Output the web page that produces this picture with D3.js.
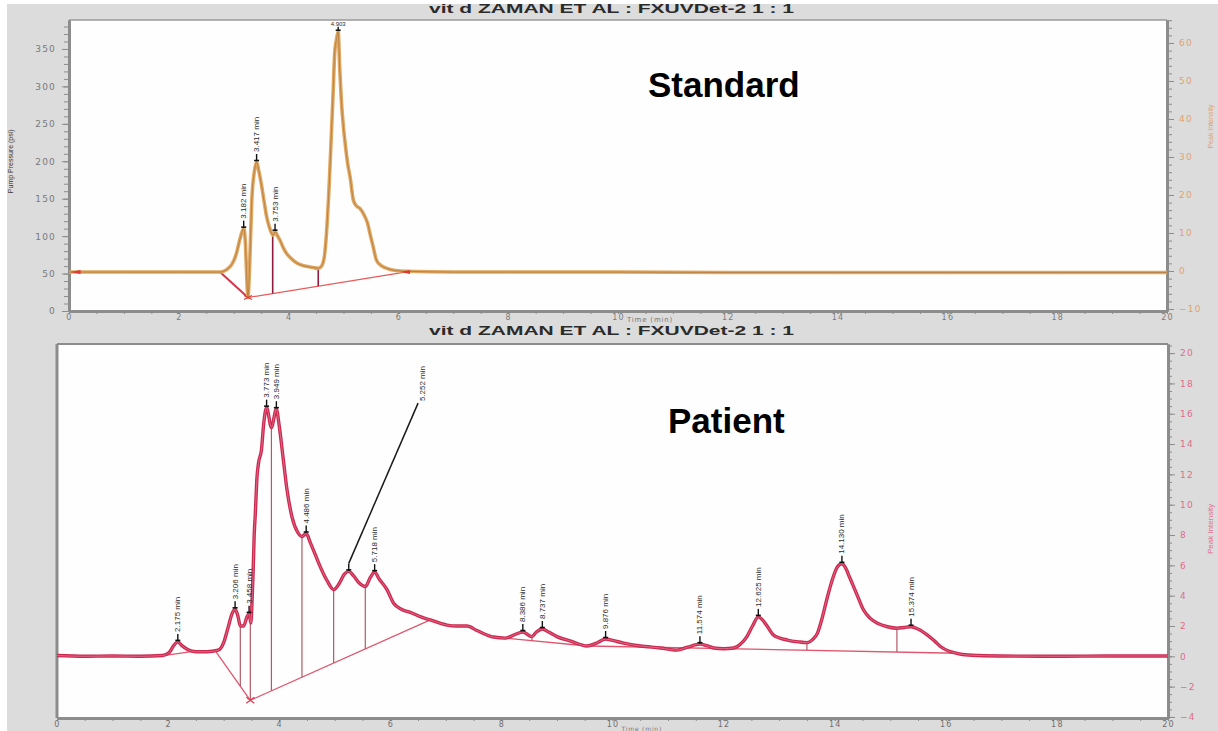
<!DOCTYPE html>
<html>
<head>
<meta charset="utf-8">
<script src="https://cdn.jsdelivr.net/npm/d3@7"></script>
<style>
  body { margin: 0; background: #ffffff; }
  svg { display: block; }
</style>
</head>
<body>
<svg id="chart" width="1218" height="731"></svg>
<script>
// ---- Standard run (pump pressure trace) ----
const standardTime = [0,1,2,2.75,2.93,3.05,3.11,3.182,3.21,3.235,3.26,3.29,3.33,3.38,3.417,3.46,3.5,3.55,3.6,3.65,3.69,3.72,3.753,3.8,3.84,3.9,3.96,4.05,4.15,4.3,4.45,4.54,4.6,4.65,4.69,4.74,4.78,4.81,4.84,4.87,4.903,4.93,4.96,5.0,5.03,5.08,5.12,5.18,5.24,5.3,5.39,5.44,5.48,5.54,5.6,5.68,5.79,5.95,6.15,7,8,10,12,14,16,18,20];
const standardSignal = [52,52,52,52,59,77,95,110,95,50,18,60,148,188,199,186,171,148,126,112,104,101,106,100,95,85,77,70,64,60,58,57,60,72,104,170,238,290,345,362,373,326,282,245,224,195,179,148,140,137,126,117,104,86,68,61,57,54,53,52,52,52,51.5,51.5,51.5,51.5,51.5];
const standardPeakTimes = [3.182, 3.417, 3.753, 4.903];
const standardPeakLabels = ["3.182 min", "3.417 min", "3.753 min", "4.903"];
const standardBaselines = [
  [[2.75, 52], [3.26, 18]],
  [[3.26, 18], [6.12, 52]]
];
const standardDropTimes = [3.71, 4.54];

// ---- Patient run (UV detector trace) ----
const patientTime = [0,0.5,1.0,1.5,1.9,2.02,2.1,2.175,2.25,2.35,2.5,2.7,2.9,3.0,3.08,3.15,3.206,3.26,3.3,3.36,3.42,3.458,3.49,3.51,3.53,3.55,3.57,3.6,3.63,3.68,3.72,3.773,3.86,3.949,4.0,4.07,4.14,4.23,4.33,4.41,4.486,4.56,4.65,4.74,4.86,4.98,5.08,5.17,5.252,5.34,5.45,5.55,5.64,5.718,5.8,5.94,6.06,6.2,6.36,6.55,6.72,7.02,7.2,7.38,7.56,7.86,8.07,8.25,8.386,8.55,8.63,8.737,8.85,9.0,9.25,9.54,9.7,9.876,10.0,10.2,10.5,10.86,11.16,11.35,11.574,11.7,11.82,12.0,12.18,12.3,12.42,12.52,12.625,12.7,12.8,12.9,13.15,13.35,13.5,13.6,13.69,13.78,13.87,13.97,14.05,14.13,14.2,14.27,14.34,14.43,14.52,14.64,14.77,14.95,15.12,15.25,15.374,15.5,15.67,15.8,15.91,16.05,16.15,16.3,16.6,17,18,19,20];
const patientSignal = [0.05,0,0.02,0,0.05,0.25,0.7,0.95,0.7,0.45,0.3,0.3,0.4,0.9,1.9,2.8,3.1,2.6,2.0,2.0,2.6,2.8,2.2,3.5,5.5,8.0,9.4,11.8,12.8,13.6,15.3,16.4,15.1,16.3,15.2,13.1,11.0,9.2,8.2,7.9,8.1,7.5,6.7,5.9,5.0,4.4,4.8,5.4,5.6,5.3,4.8,4.6,5.2,5.55,5.1,4.4,3.5,3.1,2.9,2.6,2.4,2.06,2.0,2.0,1.7,1.27,1.2,1.45,1.6,1.3,1.6,1.8,1.6,1.3,1.0,0.68,0.85,1.14,1.05,0.87,0.68,0.55,0.41,0.6,0.8,0.7,0.55,0.5,0.55,0.8,1.3,2.0,2.6,2.4,1.9,1.4,1.07,0.95,0.9,1.1,1.53,2.6,3.93,5.2,5.9,6.1,5.8,5.2,4.6,3.8,3.05,2.5,2.18,1.95,1.85,1.9,1.95,1.8,1.4,1.0,0.63,0.35,0.24,0.12,0.05,0.02,0,0.02,0.02];
const patientPeakTimes = [2.175, 3.206, 3.458, 3.773, 3.949, 4.486, 5.252, 5.718, 8.386, 8.737, 9.876, 11.574, 12.625, 14.13, 15.374];
const patientPeakLabels = ["2.175 min","3.206 min","3.458 min","3.773 min","3.949 min","4.486 min","5.252 min","5.718 min","8.386 min","8.737 min","9.876 min","11.574 min","12.625 min","14.130 min","15.374 min"];
const patientBaselines = [
  [[1.98, 0.08], [2.45, 0.32]],
  [[2.85, 0.35], [3.48, -2.9]],
  [[3.48, -2.9], [6.72, 2.4]],
  [[8.05, 1.2], [9.55, 0.68]],
  [[9.55, 0.68], [16.2, 0.2]]
];
const patientDropTimes = [3.3, 3.48, 3.86, 4.41, 4.98, 5.55, 8.55, 13.5, 15.12];

// ---- Axis ticks ----
const timeTicks = [0,2,4,6,8,10,12,14,16,18,20];
const pressureTicks = [0,50,100,150,200,250,300,350];
const standardIntensityTicks = [-10,0,10,20,30,40,50,60];
const patientIntensityTicks = [-4,-2,0,2,4,6,8,10,12,14,16,18,20];
const titleText = "vit d ZAMAN ET AL : FXUVDet-2 1 : 1";

const svg = d3.select("#chart");
const W = 1218, H = 731;

// page background
svg.append("rect").attr("x", 7).attr("y", 0).attr("width", W - 7).attr("height", H).attr("fill", "#dcdcdc");

// panel frames
const boxA = { l: 69, r: 1167, t: 20, b: 311 };
const boxB = { l: 57, r: 1168, t: 344, b: 718 };

svg.append("rect").attr("x", boxA.l).attr("y", boxA.t).attr("width", boxA.r - boxA.l).attr("height", boxA.b - boxA.t).attr("fill", "#fefefe");
svg.append("rect").attr("x", boxB.l).attr("y", boxB.t).attr("width", boxB.r - boxB.l).attr("height", boxB.b - boxB.t).attr("fill", "#fefefe");

// scales
const xTop = d3.scaleLinear().domain([0, 20]).range([boxA.l, boxA.r]);
const yTop = d3.scaleLinear().domain([0, 388.7]).range([boxA.b, boxA.t]);
const yTopRight = d3.scaleLinear().domain([-10.53, 66.05]).range([boxA.b, boxA.t]);
const xBot = d3.scaleLinear().domain([0, 20]).range([boxB.l, boxB.r]);
const yBot = d3.scaleLinear().domain([-4.07, 20.6]).range([boxB.b, boxB.t]);

const defs = svg.append("defs");
defs.append("clipPath").attr("id", "clipTop").append("rect")
  .attr("x", boxA.l).attr("y", boxA.t).attr("width", boxA.r - boxA.l).attr("height", boxA.b - boxA.t);
defs.append("clipPath").attr("id", "clipBot").append("rect")
  .attr("x", boxB.l).attr("y", boxB.t).attr("width", boxB.r - boxB.l).attr("height", boxB.b - boxB.t);

function interp(ts, vs, t) {
  const i = d3.bisectLeft(ts, t);
  if (i <= 0) return vs[0];
  if (i >= ts.length) return vs[vs.length - 1];
  const t0 = ts[i - 1], t1 = ts[i];
  return vs[i - 1] + (vs[i] - vs[i - 1]) * (t - t0) / (t1 - t0);
}
function baselineAt(segs, t) {
  for (const s of segs) {
    if (t >= s[0][0] - 1e-9 && t <= s[1][0] + 1e-9) {
      return s[0][1] + (s[1][1] - s[0][1]) * (t - s[0][0]) / (s[1][0] - s[0][0]);
    }
  }
  return null;
}

const tickFont = "'DejaVu Sans', sans-serif";

function styleAxis(g, color, labelColor, size) {
  g.select(".domain").attr("stroke", color).attr("stroke-width", 3);
  g.selectAll(".tick line").attr("stroke", color).attr("stroke-width", 1);
  g.selectAll(".tick text").attr("fill", labelColor).attr("font-family", tickFont)
    .attr("font-size", size || 9).attr("letter-spacing", 1.2);
}
function minor(from, to, step) {
  return d3.range(from, to + step / 2, step);
}

// ================= Top panel: Standard =================
svg.append("line").attr("x1", boxA.l).attr("x2", boxA.r).attr("y1", boxA.t).attr("y2", boxA.t)
  .attr("stroke", "#9a9a9a").attr("stroke-width", 1.5);

svg.append("g").attr("transform", `translate(0,${boxA.b})`)
  .call(d3.axisBottom(xTop).tickValues(minor(0, 20, 0.5)).tickSize(3).tickSizeOuter(0).tickFormat(""))
  .call(g => styleAxis(g, "#8c8c8c", "#777"));
svg.append("g").attr("transform", `translate(0,${boxA.b})`)
  .call(d3.axisBottom(xTop).tickValues(timeTicks).tickSize(3).tickSizeOuter(0).tickPadding(0))
  .call(g => styleAxis(g, "#8c8c8c", "#7a7a7a", 8));
svg.append("text").attr("x", xTop(10) + 9).attr("y", 321.5)
  .attr("font-family", tickFont).attr("font-size", 7).attr("letter-spacing", 0.8).attr("fill", "#777").text("Time (min)");

svg.append("g").attr("transform", `translate(${boxA.l},0)`)
  .call(d3.axisLeft(yTop).tickValues(minor(0, 380, 10)).tickSize(5).tickSizeOuter(0).tickFormat(""))
  .call(g => styleAxis(g, "#8c8c8c", "#777"));
svg.append("g").attr("transform", `translate(${boxA.l},0)`)
  .call(d3.axisLeft(yTop).tickValues(pressureTicks).tickSize(7).tickSizeOuter(0).tickPadding(6))
  .call(g => styleAxis(g, "#8c8c8c", "#7a7a7a"));
svg.append("text").attr("transform", `translate(13,${yTop(200)}) rotate(-90)`).attr("text-anchor", "middle")
  .attr("font-family", "'Liberation Sans', Arial, sans-serif").attr("font-size", 7).attr("fill", "#333").text("Pump Pressure (psi)");

svg.append("g").attr("transform", `translate(${boxA.r},0)`)
  .call(d3.axisRight(yTopRight).tickValues(minor(-10, 66, 2)).tickSize(5).tickSizeOuter(0).tickFormat(""))
  .call(g => styleAxis(g, "#8c8c8c", "#e0a070"));
svg.append("g").attr("transform", `translate(${boxA.r},0)`)
  .call(d3.axisRight(yTopRight).tickValues(standardIntensityTicks).tickSize(7).tickSizeOuter(0).tickPadding(5))
  .call(g => styleAxis(g, "#8c8c8c", "#e3a06c"));
svg.append("text").attr("transform", `translate(1213,${yTopRight(38)}) rotate(-90)`).attr("text-anchor", "middle")
  .attr("font-family", "'Liberation Sans', Arial, sans-serif").attr("font-size", 7).attr("fill", "#e0a070").text("Peak Intensity");

const gTop = svg.append("g").attr("clip-path", "url(#clipTop)");

standardBaselines.forEach((s, i) => {
  gTop.append("line")
    .attr("x1", xTop(s[0][0])).attr("y1", yTop(s[0][1]))
    .attr("x2", xTop(s[1][0])).attr("y2", yTop(s[1][1]))
    .attr("stroke", i === 0 ? "#d8344a" : "#e85a5a").attr("stroke-width", i === 0 ? 2 : 1.2);
});
standardDropTimes.forEach(t => {
  gTop.append("line")
    .attr("x1", xTop(t)).attr("x2", xTop(t))
    .attr("y1", yTop(interp(standardTime, standardSignal, t)))
    .attr("y2", yTop(baselineAt(standardBaselines, t)))
    .attr("stroke", "#8e1c3c").attr("stroke-width", 1.6);
});

const lineTop = d3.line().x((d, i) => xTop(standardTime[i])).y(d => yTop(d)).curve(d3.curveMonotoneX);
gTop.append("path").datum(standardSignal).attr("d", lineTop)
  .attr("fill", "none").attr("stroke", "#e0a862").attr("stroke-width", 3.6).attr("stroke-linejoin", "round");
gTop.append("path").datum(standardSignal).attr("d", lineTop)
  .attr("fill", "none").attr("stroke", "#b98243").attr("stroke-width", 1).attr("stroke-linejoin", "round");

[[0.12, 52], [6.12, 52]].forEach(p => {
  gTop.append("path")
    .attr("d", `M${xTop(p[0]) - 5},${yTop(p[1])} L${xTop(p[0]) + 5},${yTop(p[1]) - 2} L${xTop(p[0]) + 5},${yTop(p[1]) + 2} Z`)
    .attr("fill", "#e03838");
});
gTop.append("path")
  .attr("d", `M${xTop(3.26) - 4},${yTop(18) - 2} L${xTop(3.26) + 4},${yTop(18) + 2} M${xTop(3.26) - 4},${yTop(18) + 2} L${xTop(3.26) + 4},${yTop(18) - 2}`)
  .attr("stroke", "#e03838").attr("stroke-width", 1.2);

function peakMarker(g, x, y, len) {
  g.append("line").attr("x1", x).attr("x2", x).attr("y1", y - 1).attr("y2", y - (len || 8))
    .attr("stroke", "#111").attr("stroke-width", 1.4);
  g.append("line").attr("x1", x - 2.5).attr("x2", x + 2.5).attr("y1", y - 1.5).attr("y2", y - 1.5)
    .attr("stroke", "#111").attr("stroke-width", 1.6);
}
function peakLabel(g, x, y, text) {
  g.append("text").attr("transform", `translate(${x + 2.5},${y}) rotate(-90)`)
    .attr("font-family", "'Liberation Sans', Arial, sans-serif").attr("font-size", 8)
    .attr("fill", "#2a2a2a").text(text);
}
standardPeakTimes.forEach((t, i) => {
  const x = xTop(t), y = yTop(interp(standardTime, standardSignal, t));
  if (y - 55 < boxA.t) {
    // no room above the tallest peak: short marker, small flat label under the frame
    peakMarker(gTop, x, y, 5);
    gTop.append("text").attr("x", x).attr("y", boxA.t + 6).attr("text-anchor", "middle")
      .attr("font-family", "'Liberation Sans', Arial, sans-serif").attr("font-size", 6)
      .attr("fill", "#2a2a2a").text(standardPeakLabels[i]);
  } else {
    peakMarker(gTop, x, y);
    peakLabel(gTop, x, y - 10, standardPeakLabels[i]);
  }
});

// ================= Bottom panel: Patient =================
svg.append("line").attr("x1", boxB.l).attr("x2", boxB.r).attr("y1", boxB.t).attr("y2", boxB.t)
  .attr("stroke", "#8c8c8c").attr("stroke-width", 2);

svg.append("g").attr("transform", `translate(0,${boxB.b})`)
  .call(d3.axisBottom(xBot).tickValues(minor(0, 20, 0.5)).tickSize(3).tickSizeOuter(0).tickFormat(""))
  .call(g => styleAxis(g, "#8c8c8c", "#777"));
svg.append("g").attr("transform", `translate(0,${boxB.b})`)
  .call(d3.axisBottom(xBot).tickValues(timeTicks).tickSize(3).tickSizeOuter(0).tickPadding(0))
  .call(g => styleAxis(g, "#8c8c8c", "#6e6e6e", 8));
svg.append("text").attr("x", xBot(10) + 9).attr("y", 730.5)
  .attr("font-family", tickFont).attr("font-size", 6).attr("letter-spacing", 0.8).attr("fill", "#777").text("Time (min)");

svg.append("line").attr("x1", boxB.l).attr("x2", boxB.l).attr("y1", boxB.t).attr("y2", boxB.b)
  .attr("stroke", "#8c8c8c").attr("stroke-width", 3);

svg.append("g").attr("transform", `translate(${boxB.r},0)`)
  .call(d3.axisRight(yBot).tickValues(minor(-4, 20.5, 0.5)).tickSize(4).tickSizeOuter(0).tickFormat(""))
  .call(g => styleAxis(g, "#8c8c8c", "#d86a8a"));
svg.append("g").attr("transform", `translate(${boxB.r},0)`)
  .call(d3.axisRight(yBot).tickValues(patientIntensityTicks).tickSize(7).tickSizeOuter(0).tickPadding(5))
  .call(g => styleAxis(g, "#8c8c8c", "#dc6c8c"));
svg.append("text").attr("transform", `translate(1213,${yBot(8.4)}) rotate(-90)`).attr("text-anchor", "middle")
  .attr("font-family", "'Liberation Sans', Arial, sans-serif").attr("font-size", 8).attr("fill", "#e07090").text("Peak Intensity");

const gBot = svg.append("g").attr("clip-path", "url(#clipBot)");

patientBaselines.forEach(s => {
  gBot.append("line")
    .attr("x1", xBot(s[0][0])).attr("y1", yBot(s[0][1]))
    .attr("x2", xBot(s[1][0])).attr("y2", yBot(s[1][1]))
    .attr("stroke", "#e0566e").attr("stroke-width", 1.3);
});
patientDropTimes.forEach(t => {
  gBot.append("line")
    .attr("x1", xBot(t)).attr("x2", xBot(t))
    .attr("y1", yBot(interp(patientTime, patientSignal, t)))
    .attr("y2", yBot(baselineAt(patientBaselines, t)))
    .attr("stroke", "#b25a66").attr("stroke-width", 1.2);
});

const lineBot = d3.line().x((d, i) => xBot(patientTime[i])).y(d => yBot(d)).curve(d3.curveMonotoneX);
gBot.append("path").datum(patientSignal).attr("d", lineBot)
  .attr("fill", "none").attr("stroke", "#c92a50").attr("stroke-width", 3.4).attr("stroke-linejoin", "round");
gBot.append("path").datum(patientSignal).attr("d", lineBot)
  .attr("fill", "none").attr("stroke", "#e66484").attr("stroke-width", 1).attr("stroke-linejoin", "round");

gBot.append("path")
  .attr("d", `M${xBot(3.48) - 4},${yBot(-2.9) - 3} L${xBot(3.48) + 4},${yBot(-2.9) + 3} M${xBot(3.48) - 4},${yBot(-2.9) + 3} L${xBot(3.48) + 4},${yBot(-2.9) - 3}`)
  .attr("stroke", "#e03850").attr("stroke-width", 1.2);

patientPeakTimes.forEach((t, i) => {
  const x = xBot(t), y = yBot(interp(patientTime, patientSignal, t));
  peakMarker(gBot, x, y);
  if (patientPeakLabels[i] === "5.252 min") {
    // leader line to an offset label
    const lx = xBot(6.5), ly = yBot(16.7);
    gBot.append("line").attr("x1", x).attr("y1", y - 8).attr("x2", lx).attr("y2", ly)
      .attr("stroke", "#1a1a1a").attr("stroke-width", 1.5);
    peakLabel(gBot, lx + 4, ly - 2, patientPeakLabels[i]);
  } else {
    peakLabel(gBot, x, y - 10, patientPeakLabels[i]);
  }
});

// ================= Titles =================
svg.append("text").attr("x", 429).attr("y", 12.5).attr("textLength", 365).attr("lengthAdjust", "spacingAndGlyphs")
  .attr("font-family", "'Liberation Sans', Arial, sans-serif").attr("font-weight", "bold").attr("font-size", 12)
  .attr("fill", "#2b2b2b").text(titleText);
svg.append("rect").attr("x", 0).attr("y", 0).attr("width", W).attr("height", 4).attr("fill", "#ffffff");

svg.append("text").attr("x", 429).attr("y", 334.5).attr("textLength", 365).attr("lengthAdjust", "spacingAndGlyphs")
  .attr("font-family", "'Liberation Sans', Arial, sans-serif").attr("font-weight", "bold").attr("font-size", 12)
  .attr("fill", "#2b2b2b").text(titleText);

svg.append("text").attr("x", 648).attr("y", 97)
  .attr("font-family", "'Liberation Sans', Arial, sans-serif").attr("font-weight", "bold").attr("font-size", 35)
  .attr("fill", "#000").text("Standard");
svg.append("text").attr("x", 668).attr("y", 433)
  .attr("font-family", "'Liberation Sans', Arial, sans-serif").attr("font-weight", "bold").attr("font-size", 35)
  .attr("fill", "#000").text("Patient");
</script>
</body>
</html>
